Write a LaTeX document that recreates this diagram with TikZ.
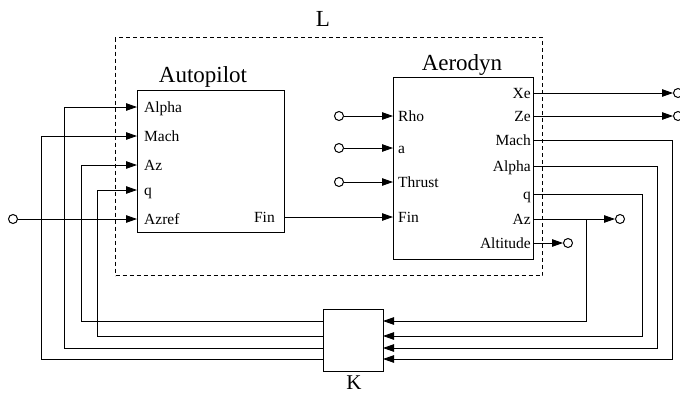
\documentclass[tikz,border=0pt]{standalone}
\usepackage{fontspec}
\setmainfont{Liberation Serif}
\usetikzlibrary{arrows.meta}
\begin{document}
\begin{tikzpicture}[x=1pt,y=-1pt,
 blk/.style={draw, line width=1.1pt, inner sep=0, anchor=north west},
 lbl/.style={font=\fontsize{15.5}{16}\selectfont, inner sep=0},
 ttl/.style={font=\fontsize{23}{24}\selectfont, inner sep=0, anchor=base},
 wire/.style={line width=0.9pt},
 arr/.style={wire, -{Triangle[length=11pt,width=7.5pt]}},
 term/.style={circle, draw, line width=1pt, minimum size=9pt, inner sep=0, fill=white},
 lbox/.style={draw, line width=1pt, dash pattern=on 4pt off 3pt, inner sep=0, anchor=north west}]
\useasboundingbox (0,0) rectangle (680,394);

% dashed system box L
\node[lbox, minimum width=427pt, minimum height=238pt] (L) at (115,37) {};
\node[ttl] (Lt) at (323,26) {L};

% blocks
\node[blk, minimum width=147pt, minimum height=142pt] (ap) at (137,90) {};
\node[ttl] (apt) at (203,82) {Autopilot};
\node[blk, minimum width=140pt, minimum height=182pt] (ad) at (393,77) {};
\node[ttl] (adt) at (462,70) {Aerodyn};
\node[blk, minimum width=60pt, minimum height=62pt] (K) at (323,309) {};
\node[ttl, font=\fontsize{21}{22}\selectfont] (kt) at (354,389) {K};

% Autopilot ports
\foreach \n/\y in {Alpha/107, Mach/136, Az/165, q/190, Azref/219}{
  \coordinate (ap\n) at (137,\y);
  \node[lbl, anchor=base west] (apl\n) at (144,\y+5) {\n};
}
\coordinate (apFin) at (284,217);
\node[lbl, anchor=base east] (aplFin) at (275,222) {Fin};

% Aerodyn inputs
\foreach \n/\y in {Rho/116, a/148, Thrust/182, Fin/217}{
  \coordinate (adi\n) at (393,\y);
  \node[lbl, anchor=base west] (adl\n) at (398,\y+5) {\n};
}
% Aerodyn outputs
\foreach \n/\y in {Xe/93, Ze/116, Mach/140, Alpha/166, q/194, Az/219, Altitude/243}{
  \coordinate (ado\n) at (533,\y);
  \node[lbl, anchor=base east] (adol\n) at (531,\y+5) {\n};
}

% K ports
\coordinate (kl1) at (323,321); \coordinate (kl2) at (323,336);
\coordinate (kl3) at (323,348); \coordinate (kl4) at (323,359);
\coordinate (kr1) at (383,321); \coordinate (kr2) at (383,336);
\coordinate (kr3) at (383,348); \coordinate (kr4) at (383,359);

% terminals
\node[term] (tAzref) at (13,219) {};
\node[term] (tRho) at (339,116) {};
\node[term] (ta) at (339,148) {};
\node[term] (tThrust) at (339,182) {};
\node[term] (tXe) at (678,93) {};
\node[term] (tZe) at (678,116) {};
\node[term] (tAz) at (620,219) {};
\node[term] (tAlt) at (568,243) {};

% connectors
\draw[arr] (tAzref) -- (apAzref);
\draw[arr] (apFin) -- (adiFin);
\draw[arr] (tRho) -- (adiRho);
\draw[arr] (ta) -- (adia);
\draw[arr] (tThrust) -- (adiThrust);
\draw[arr] (adoXe) -- (tXe);
\draw[arr] (adoZe) -- (tZe);
\draw[arr] (adoAz) -- (tAz);
\draw[arr] (adoAltitude) -- (tAlt);

\coordinate (br) at (586,219);
\draw[arr] (br) |- (kr1);
\draw[arr] (adoq) -- ++(109,0) |- (kr2);
\draw[arr] (adoAlpha) -- ++(124,0) |- (kr3);
\draw[arr] (adoMach) -- ++(139,0) |- (kr4);

\draw[arr] (kl1) -- ++(-242,0) |- (apAz);
\draw[arr] (kl2) -- ++(-226,0) |- (apq);
\draw[arr] (kl3) -- ++(-259,0) |- (apAlpha);
\draw[arr] (kl4) -- ++(-282,0) |- (apMach);
\end{tikzpicture}
\end{document}
